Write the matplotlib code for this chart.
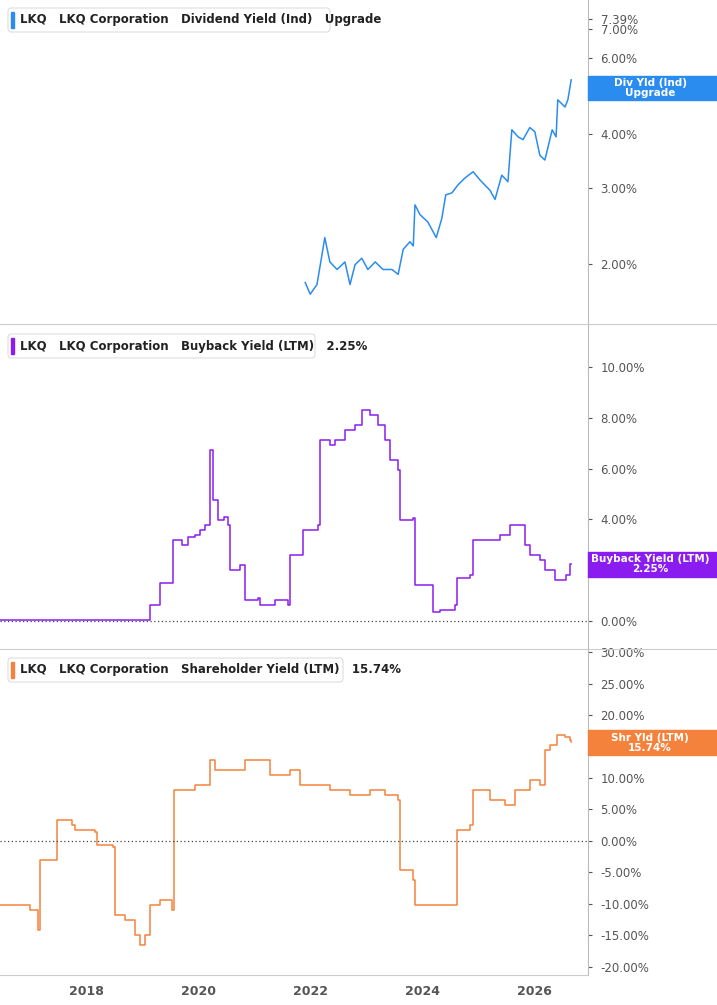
import matplotlib.pyplot as plt
import matplotlib.ticker as mticker
from matplotlib.patches import Rectangle, FancyBboxPatch

# dividend yield (ind), %
div_years = [21.90, 21.99, 22.11, 22.20, 22.25, 22.34, 22.47, 22.61, 22.70, 22.79, 22.91, 23.02,
             23.15, 23.29, 23.45, 23.56, 23.65, 23.77, 23.83, 23.86, 23.95, 24.09, 24.24, 24.34,
             24.41, 24.52, 24.63, 24.75, 24.90, 25.02, 25.20, 25.29, 25.41, 25.52, 25.59, 25.70,
             25.79, 25.91, 26.00, 26.09, 26.18, 26.31, 26.38, 26.41, 26.54, 26.59, 26.65]
div_vals = [1.81, 1.70, 1.79, 2.10, 2.30, 2.02, 1.94, 2.02, 1.79, 1.99, 2.06, 1.94,
            2.02, 1.94, 1.94, 1.89, 2.16, 2.25, 2.20, 2.74, 2.60, 2.50, 2.30, 2.55,
            2.89, 2.92, 3.05, 3.16, 3.27, 3.13, 2.96, 2.82, 3.21, 3.10, 4.09, 3.94,
            3.88, 4.14, 4.05, 3.57, 3.48, 4.09, 3.94, 4.80, 4.62, 4.80, 5.34]

# buyback yield (LTM), %
bb_years = [16.45, 19.13, 19.31, 19.54, 19.70, 19.80, 19.93, 20.02, 20.11, 20.20, 20.25, 20.34,
            20.45, 20.52, 20.56, 20.74, 20.83, 21.06, 21.09, 21.36, 21.59, 21.63, 21.86, 22.13,
            22.16, 22.34, 22.43, 22.61, 22.79, 22.91, 23.06, 23.20, 23.32, 23.41, 23.56, 23.59,
            23.83, 23.86, 24.18, 24.31, 24.58, 24.61, 24.84, 24.90, 25.11, 25.38, 25.56, 25.74,
            25.83, 25.91, 26.09, 26.18, 26.36, 26.55, 26.63, 26.65]
bb_vals = [0.03, 0.63, 1.50, 3.19, 3.00, 3.30, 3.39, 3.58, 3.78, 6.73, 4.76, 3.98,
           4.10, 3.78, 2.01, 2.20, 0.83, 0.91, 0.63, 0.83, 0.63, 2.60, 3.58, 3.78,
           7.13, 6.93, 7.13, 7.52, 7.72, 8.31, 8.11, 7.72, 7.13, 6.34, 5.94, 3.98,
           4.06, 1.42, 0.35, 0.43, 0.63, 1.69, 1.81, 3.19, 3.19, 3.39, 3.78, 3.78,
           2.99, 2.60, 2.40, 2.01, 1.61, 1.81, 2.25, 2.25]

# shareholder yield (LTM), %
sh_years = [16.45, 16.99, 17.13, 17.16, 17.47, 17.74, 17.79, 18.15, 18.18, 18.47, 18.50, 18.68,
            18.86, 18.95, 19.04, 19.13, 19.31, 19.52, 19.56, 19.75, 19.93, 20.20, 20.29, 20.56,
            20.83, 21.27, 21.63, 21.81, 22.34, 22.70, 23.06, 23.32, 23.56, 23.59, 23.83, 23.86,
            24.31, 24.58, 24.61, 24.84, 24.90, 25.20, 25.47, 25.65, 25.91, 26.09, 26.18, 26.27,
            26.39, 26.54, 26.63, 26.65]
sh_vals = [-10.16, -10.95, -14.10, -3.02, 3.33, 2.54, 1.75, 1.43, -0.63, -0.95, -11.75, -12.54,
           -14.92, -16.51, -14.92, -10.16, -9.37, -10.95, 8.10, 8.10, 8.89, 12.86, 11.27, 11.27,
           12.86, 10.48, 11.27, 8.89, 8.10, 7.30, 8.10, 7.30, 6.51, -4.60, -6.19, -10.16,
           -10.16, -10.16, 1.75, 2.54, 8.10, 6.51, 5.71, 8.10, 9.68, 8.89, 14.44, 15.24,
           16.83, 16.51, 16.03, 15.74]

year_ticks = [2018, 2020, 2022, 2024, 2026]

W, H = 717, 1005
fig = plt.figure(figsize=(W / 100, H / 100), dpi=100)
fig.patch.set_facecolor("white")

def px_axes(top, bottom):
    return fig.add_axes([0, 1 - bottom / H, 588 / W, (bottom - top) / H])

ax1 = px_axes(0, 324)
ax2 = px_axes(325, 648)
ax3 = px_axes(649, 975)

xmin, xmax = 2016.45, 2026.95
for ax in (ax1, ax2, ax3):
    ax.set_xlim(xmin, xmax)
    ax.yaxis.tick_right()
    for s in ("top", "left", "bottom"):
        ax.spines[s].set_visible(False)
    ax.spines["right"].set_color("#bbbbbb")
    ax.tick_params(axis="y", colors="#555555", labelsize=8.5, length=3, direction="out", pad=6)
    ax.tick_params(axis="y", labelcolor="#555555")
    ax.set_xticks([])

# top: log scale
ax1.plot([2000 + y for y in div_years], div_vals, color="#2b8cf0", lw=1.1)
ax1.set_yscale("log")
ax1.set_ylim(1.45, 8.18)
ax1.yaxis.set_minor_locator(mticker.NullLocator())
ax1.set_yticks([2, 3, 4, 5, 6, 7, 7.39])
ax1.set_yticklabels(["2.00%", "3.00%", "4.00%", "5.00%", "6.00%", "7.00%", "7.39%"])

ax2.plot([2000 + y for y in bb_years], bb_vals, color="#8a1cf0", lw=1.1, drawstyle="steps-post")
ax2.set_ylim(-1.06, 11.65)
ax2.set_yticks([0, 2, 4, 6, 8, 10])
ax2.set_yticklabels(["0.00%", "", "4.00%", "6.00%", "8.00%", "10.00%"])
ax2.axhline(0, color="#444444", lw=0.9, ls=(0, (1, 2)))

ax3.plot([2000 + y for y in sh_years], sh_vals, color="#f5823c", lw=1.1, drawstyle="steps-post")
ax3.set_ylim(-21.3, 30.5)
ax3.set_yticks(range(-20, 31, 5))
ax3.set_yticklabels(["%.2f%%" % v for v in range(-20, 31, 5)])
ax3.axhline(0, color="#444444", lw=0.9, ls=(0, (1, 2)))

# bottom date axis
axx = fig.add_axes([0, 0, 588 / W, 30 / H])
axx.set_xlim(xmin, xmax)
axx.set_ylim(0, 1)
axx.axis("off")
for y in year_ticks:
    axx.text(y, 0.45, str(y), ha="center", va="center", fontsize=9, color="#555555", fontweight="bold")
fig.add_artist(plt.Line2D([0, 588 / W], [1 - 975 / H] * 2, color="#cccccc", lw=0.8))

# separators
for yy in (324.5, 648.5):
    fig.add_artist(plt.Line2D([0, 1], [1 - yy / H] * 2, color="#cccccc", lw=0.8))

# headers
headers = [
    (20, "#2b8cf0", "LKQ   LKQ Corporation   Dividend Yield (Ind)   Upgrade", 322),
    (346, "#8a1cf0", "LKQ   LKQ Corporation   Buyback Yield (LTM)   2.25%", 307),
    (670, "#f5823c", "LKQ   LKQ Corporation   Shareholder Yield (LTM)   15.74%", 335),
]
for yc, col, txt, w in headers:
    fig.add_artist(FancyBboxPatch((8 / W, 1 - (yc + 12) / H), w / W, 24 / H,
                                  boxstyle="round,pad=0,rounding_size=0.004",
                                  fc="white", ec="#dddddd", lw=0.8))
    fig.add_artist(Rectangle((11 / W, 1 - (yc + 8) / H), 3 / W, 16 / H, color=col))
    fig.text(20 / W, 1 - yc / H, txt, fontsize=8.5, fontweight="bold", color="#222222", va="center")

# right value labels
labels = [
    (76, 100, "#2b8cf0", "Div Yld (Ind)\nUpgrade"),
    (552, 577, "#8a1cf0", "Buyback Yield (LTM)\n2.25%"),
    (730, 755, "#f5823c", "Shr Yld (LTM)\n15.74%"),
]
for top, bot, col, txt in labels:
    fig.add_artist(Rectangle((588 / W, 1 - bot / H), 129 / W, (bot - top) / H, color=col, zorder=5))
    fig.text(650 / W, 1 - (top + bot) / 2 / H, txt, ha="center", va="center", fontsize=7.5,
             fontweight="bold", color="white", linespacing=1.0, zorder=6)

fig.savefig("out.png", dpi=100)
